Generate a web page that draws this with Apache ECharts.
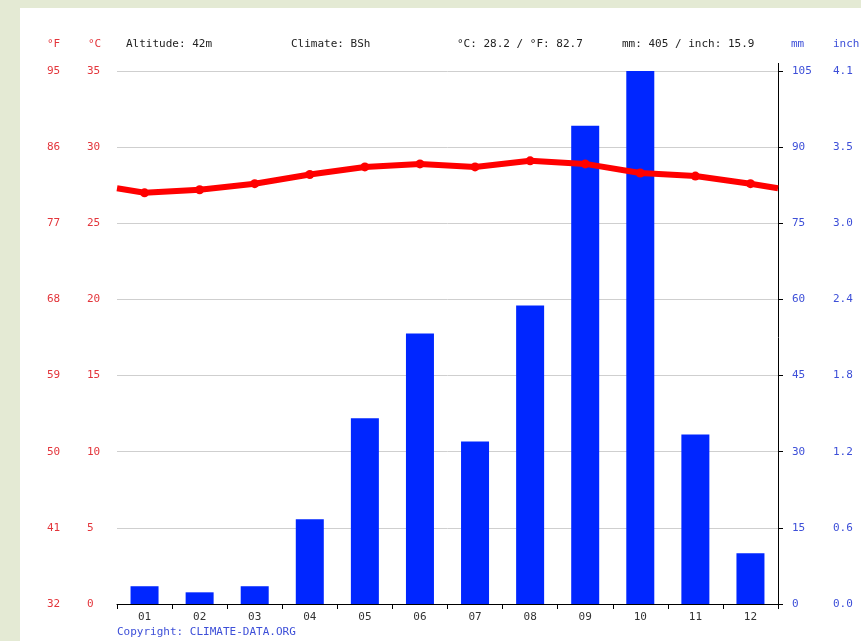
<!DOCTYPE html>
<html>
<head>
<meta charset="utf-8">
<script src="https://cdn.jsdelivr.net/npm/echarts@6/dist/echarts.min.js"></script>
<style>
    html, body { margin: 0; padding: 0; background: #e4ead4; }
    #panel { position: absolute; left: 20px; top: 8px; right: 0; bottom: 0; background: #fff; }
    #chart { position: absolute; left: 0; top: 0; width: 861px; height: 641px; }
</style>
</head>
<body>
<div id="panel"></div>
<div id="chart"></div>
<script>
"use strict";

const months = ["01", "02", "03", "04", "05", "06", "07", "08", "09", "10", "11", "12"];
const temperature = [27.0, 27.2, 27.6, 28.2, 28.7, 28.9, 28.7, 29.1, 28.9, 28.3, 28.1, 27.6];
const precipitation = [3.5, 2.3, 3.5, 16.7, 36.6, 53.3, 32.0, 58.8, 94.2, 105, 33.4, 10.0];

const celsiusTicks = [0, 5, 10, 15, 20, 25, 30, 35];
const fahrenheitTicks = ["32", "41", "50", "59", "68", "77", "86", "95"];
const mmTicks = [0, 15, 30, 45, 60, 75, 90, 105];
const inchTicks = ["0.0", "0.6", "1.2", "1.8", "2.4", "3.0", "3.5", "4.1"];

const headerTexts = [
    ["Altitude: 42m", 126],
    ["Climate: BSh", 291],
    ["°C: 28.2 / °F: 82.7", 457],
    ["mm: 405 / inch: 15.9", 622]
];

const FONT = "DejaVu Sans Mono";
const RED = "#e3353b";
const BLUE = "#3d4fd8";

// line runs from edge to edge; the ends sit between Dec and Jan
let wrap = (temperature[0] + temperature[11]) / 2;
let lineData = [{ value: [0.5, wrap], symbol: "none" }];
for (let i = 0; i < temperature.length; i++) {
    lineData.push([i + 1, temperature[i]]);
}
lineData.push({ value: [12.5, wrap], symbol: "none" });

function headText(text, x, color) {
    return {
        type: "text", left: x, top: 39,
        style: { text: text, fill: color, font: "11px " + FONT }
    };
}

let graphics = [
    headText("°F", 47, RED),
    headText("°C", 88, RED),
    headText("mm", 791, BLUE),
    headText("inch", 833, BLUE),
    {
        type: "line", shape: { x1: 778.5, y1: 63, x2: 778.5, y2: 71 },
        style: { stroke: "#000", lineWidth: 1 }
    },
    {
        type: "text", left: 117, top: 627,
        style: { text: "Copyright: CLIMATE-DATA.ORG", fill: BLUE, font: "11px " + FONT }
    }
];
headerTexts.forEach(h => graphics.push(headText(h[0], h[1], "#222")));

let chart = echarts.init(document.getElementById("chart"));
chart.setOption({
    animation: false,
    backgroundColor: "transparent",
    grid: { left: 117, right: 83, top: 71, bottom: 37 },
    graphic: graphics,
    xAxis: [
        {
            type: "category",
            data: months,
            axisLine: { lineStyle: { color: "#000", width: 1 } },
            axisTick: { show: true, length: 5, lineStyle: { color: "#000" } },
            axisLabel: { color: "#333", fontFamily: FONT, fontSize: 11, margin: 8 }
        },
        { type: "value", min: 0.5, max: 12.5, show: false }
    ],
    yAxis: [
        {
            type: "value", min: 0, max: 35, interval: 5, position: "left", offset: 0,
            axisLine: { show: false }, axisTick: { show: false },
            splitLine: { lineStyle: { color: "#cfcfcf", width: 1 } },
            axisLabel: {
                color: RED, fontFamily: FONT, fontSize: 11, align: "left", margin: 30,
                formatter: v => String(celsiusTicks[celsiusTicks.indexOf(v)])
            }
        },
        {
            type: "value", min: 0, max: 35, interval: 5, position: "left", offset: 0,
            axisLine: { show: false }, axisTick: { show: false }, splitLine: { show: false },
            axisLabel: {
                color: RED, fontFamily: FONT, fontSize: 11, align: "left", margin: 70,
                formatter: v => fahrenheitTicks[celsiusTicks.indexOf(v)]
            }
        },
        {
            type: "value", min: 0, max: 105, interval: 15, position: "right", offset: 0,
            axisLine: { show: true, lineStyle: { color: "#000", width: 1 } },
            axisTick: { show: true, length: 5, lineStyle: { color: "#000" } },
            splitLine: { show: false },
            axisLabel: {
                color: BLUE, fontFamily: FONT, fontSize: 11, align: "left", margin: 14,
                formatter: v => String(mmTicks[mmTicks.indexOf(v)])
            }
        },
        {
            type: "value", min: 0, max: 105, interval: 15, position: "right", offset: 0,
            axisLine: { show: false }, axisTick: { show: false }, splitLine: { show: false },
            axisLabel: {
                color: BLUE, fontFamily: FONT, fontSize: 11, align: "left", margin: 55,
                formatter: v => inchTicks[mmTicks.indexOf(v)]
            }
        }
    ],
    series: [
        {
            name: "Precipitation",
            type: "bar",
            xAxisIndex: 0,
            yAxisIndex: 2,
            data: precipitation,
            barWidth: 28,
            itemStyle: { color: "#0026ff" },
            z: 2
        },
        {
            name: "Temperature",
            type: "line",
            xAxisIndex: 1,
            yAxisIndex: 0,
            data: lineData,
            symbol: "circle",
            symbolSize: 9,
            lineStyle: { color: "#ff0000", width: 6 },
            itemStyle: { color: "#ff0000" },
            z: 3
        }
    ]
});
</script>
</body>
</html>
